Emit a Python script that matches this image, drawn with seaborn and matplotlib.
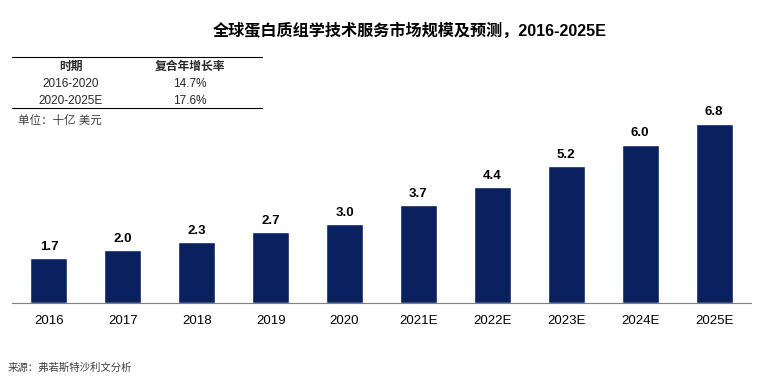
import matplotlib
matplotlib.use("Agg")
import matplotlib.pyplot as plt
import seaborn as sns
import pandas as pd
from matplotlib.lines import Line2D

years = ["2016", "2017", "2018", "2019", "2020", "2021E", "2022E", "2023E", "2024E", "2025E"]
values = [1.7, 2.0, 2.3, 2.7, 3.0, 3.7, 4.4, 5.2, 6.0, 6.8]
periods = ["2016-2020", "2020-2025E"]
cagr = ["14.7%", "17.6%"]

sns.set_theme(style="white")
plt.rcParams['font.family'] = ['Liberation Sans', 'Noto Sans CJK SC', 'DejaVu Sans']

df = pd.DataFrame({"year": years, "value": values})

fig = plt.figure(figsize=(7.6, 3.82), dpi=100)
ax = fig.add_axes([12/760, (382-303)/382, (751-12)/760, 196.5/382])
sns.barplot(data=df, x="year", y="value", color="#0B215F", width=0.5, ax=ax, saturation=1)
ax.set_xlim(-0.5, 9.5)
ax.set_ylim(0, 7.45)
for i, v in enumerate(values):
    ax.text(i, v + 0.2, f"{v:.1f}", ha="center", va="bottom", fontsize=9.5, fontweight="bold", color="#000000")
ax.set_xlabel("")
ax.set_ylabel("")
ax.set_yticks([])
ax.tick_params(axis="x", labelsize=9.5, colors="#000000", length=0, pad=9)
for s in ["top", "right", "left"]:
    ax.spines[s].set_visible(False)
ax.spines["bottom"].set_color("#7F7F7F")
ax.spines["bottom"].set_linewidth(0.8)

fig.text(410/760, 1 - 31/382, "全球蛋白质组学技术服务市场规模及预测，2016-2025E",
         ha="center", va="center", fontsize=11.6, fontweight="bold", color="#000000")

# table
fig.add_artist(Line2D([12/760, 262/760], [1 - 57/382, 1 - 57/382], color="#000000", lw=0.8))
fig.add_artist(Line2D([12/760, 262/760], [1 - 108/382, 1 - 108/382], color="#000000", lw=0.8))
fig.text(71/760, 1 - 67/382, "时期", ha="center", va="center", fontsize=8.5, fontweight="bold")
fig.text(190/760, 1 - 67/382, "复合年增长率", ha="center", va="center", fontsize=8.5, fontweight="bold")
for k, (p, c) in enumerate(zip(periods, cagr)):
    y = 1 - (84 + 17 * k) / 382
    fig.text(71/760, y, p, ha="center", va="center", fontsize=8.5)
    fig.text(190/760, y, c, ha="center", va="center", fontsize=8.5)
fig.text(18/760, 1 - 121/382, "单位：十亿 美元", ha="left", va="center", fontsize=8.3, color="#404040")

fig.text(8/760, 1 - 368/382, "来源：弗若斯特沙利文分析", ha="left", va="center", fontsize=7.5,
         style="italic", color="#404040")

fig.savefig("out.png", dpi=100)
